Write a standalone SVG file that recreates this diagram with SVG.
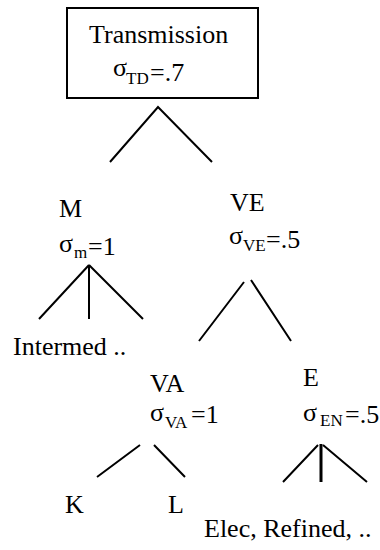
<svg xmlns="http://www.w3.org/2000/svg" width="380" height="550" viewBox="0 0 380 550">
<style>
text{fill:#000;font-size:26px}
.sub{font-size:17px}
.edge{stroke:#000;stroke-width:2;fill:none}
.thick{stroke-width:3}
</style>
<rect width="380" height="550" fill="#fff"/>
<g id="connectors">
<polyline class="edge" points="110,162 158,107 212,162"/>
<path class="edge" d="M89,265 L39,319 M89,265 L89,319 M89,265 L143,319"/>
<path class="edge" d="M244,282 L199,341 M251,280 L291,341"/>
<path class="edge" d="M140,445 L97,477 M154,445 L185,477"/>
<path class="edge" d="M318,445 L283,482 M323,445 L367,482"/>
<path class="edge thick" d="M321,444 L321,482"/>
</g>
<g font-family="'Liberation Serif', 'Times New Roman', 'DejaVu Serif', serif">
<g id="transmission">
<rect x="67" y="8" width="191" height="90" fill="#fff" stroke="#000" stroke-width="2"/>
<text x="89" y="43">Transmission</text>
<text x="113" y="76">σ</text><text class="sub" x="126" y="84">TD</text><text x="150" y="81">=.7</text>
</g>
<g id="M">
<text x="59" y="217">M</text>
<text x="59" y="252">σ</text><text class="sub" x="74" y="258">m</text><text x="88" y="255">=1</text>
</g>
<g id="intermed"><text x="13" y="355">Intermed ..</text></g>
<g id="VE">
<text x="230" y="211">VE</text>
<text x="229" y="244">σ</text><text class="sub" x="243" y="251">VE</text><text x="266" y="248">=.5</text>
</g>
<g id="VA">
<text x="150" y="392">VA</text>
<text x="150" y="421">σ</text><text class="sub" x="165" y="428">VA</text><text x="191" y="423">=1</text>
</g>
<g id="E">
<text x="303" y="386">E</text>
<text x="303" y="421">σ</text><text class="sub" x="320" y="426">EN</text><text x="345" y="423">=.5</text>
</g>
<g id="K"><text x="65" y="513">K</text></g>
<g id="L"><text x="168" y="513">L</text></g>
<g id="elec"><text x="204" y="537">Elec, Refined, ..</text></g>
</g>
</svg>
